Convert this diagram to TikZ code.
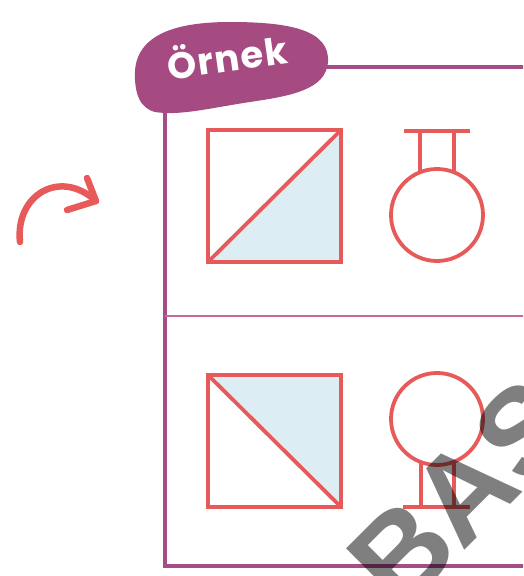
\documentclass[tikz,border=0pt]{standalone}
\usepackage{fontspec}
\newfontfamily\blobfont{Poppins Bold}[LetterSpace=4.0]
\newfontfamily\wmfont{Liberation Sans Bold}
\definecolor{framepurple}{HTML}{A64C86}
\definecolor{blobpurple}{HTML}{A54B82}
\definecolor{divpink}{HTML}{C7679C}
\definecolor{symred}{HTML}{E8595A}
\definecolor{fillblue}{HTML}{DCEEF3}
\tikzset{
  frameline/.style={draw=framepurple, line width=4pt},
  divline/.style={draw=divpink, line width=2.2pt},
  symline/.style={draw=symred, line width=3.8pt},
  bluefill/.style={fill=fillblue},
  arrowline/.style={draw=symred, line width=6.5pt, line cap=round, line join=round},
}
\begin{document}
\begin{tikzpicture}[x=1pt,y=-1pt]
\useasboundingbox (0,0) rectangle (523,576);
\clip (0,0) rectangle (523,576);
\fill[white] (0,0) rectangle (523,576);
% frame
\coordinate (fl) at (165,100);
\coordinate (flb) at (165,566);
\coordinate (fbr) at (530,566);
\coordinate (ftl) at (320,67);
\coordinate (ftr) at (530,67);
\coordinate (dl) at (165,316);
\coordinate (dr) at (530,316);
\draw[frameline] (ftl) -- (ftr);
\draw[frameline] (fl) -- (flb) -- (fbr);
\draw[divline] (dl) -- (dr);
% blob
\fill[blobpurple] (135,80) .. controls (132,40) and (165,22) .. (230,22)
  .. controls (290,22) and (330,30) .. (328,62)
  .. controls (326,90) and (290,96) .. (250,102)
  .. controls (210,108) and (180,116) .. (155,112)
  .. controls (140,108) and (136,95) .. (135,80) -- cycle;
\node[text=white, font=\blobfont\fontsize{37}{37}\selectfont, rotate=8] (title) at (227,55) {Örnek};
% top row
\coordinate (s1a) at (208,130);
\coordinate (s1b) at (341,262);
\fill[bluefill] (208,262) -- (341,130) -- (341,262) -- cycle;
\draw[symline] (s1a) rectangle (s1b);
\draw[symline] (208,262) -- (341,130);
\node[circle, symline, minimum size=92pt, inner sep=0pt] (c1) at (437,215) {};
\draw[symline] (404,131) -- (470,131);
\draw[symline] (420,131) -- (420,171);
\draw[symline] (454,131) -- (454,171);
% bottom row
\coordinate (s2a) at (208,375);
\coordinate (s2b) at (341,507);
\fill[bluefill] (208,375) -- (341,375) -- (341,507) -- cycle;
\draw[symline] (s2a) rectangle (s2b);
\draw[symline] (208,375) -- (341,507);
\node[circle, symline, minimum size=92pt, inner sep=0pt] (c2) at (437,419) {};
\draw[symline] (403,507) -- (470,507);
\draw[symline] (421,463) -- (421,507);
\draw[symline] (454,463) -- (454,507);
% arrow
\coordinate (a0) at (20,242);
\coordinate (a1) at (96,201);
\draw[arrowline] (a0) .. controls (15,195) and (60,168) .. (a1);
\draw[arrowline] (87,178) -- (a1) -- (67,210);
% watermark
\node[text=black, opacity=0.5, font=\wmfont\fontsize{123}{123}\selectfont, rotate=45, inner sep=0pt, anchor=base] (wm) at (492,523) {BAS};
\end{tikzpicture}
\end{document}
